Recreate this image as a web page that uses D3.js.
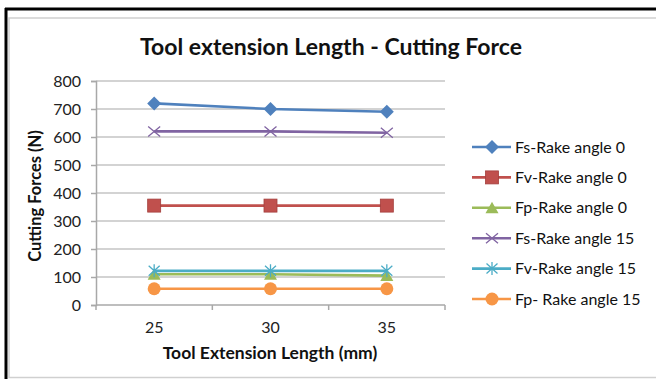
<!DOCTYPE html>
<html>
<head>
<meta charset="utf-8">
<script src="https://cdn.jsdelivr.net/npm/d3@7"></script>
<style>
  body { margin: 0; background: #fff; }
  svg { display: block; font-family: Lato, "Open Sans", sans-serif; }
</style>
</head>
<body>
<script>
// data
const lengths = ['25', '30', '35'];
const seriesNames = ['Fs-Rake angle 0', 'Fv-Rake angle 0', 'Fp-Rake angle 0',
                     'Fs-Rake angle 15', 'Fv-Rake angle 15', 'Fp- Rake angle 15'];
const fs0 = [720, 700, 690];
const fv0 = [355, 355, 355];
const fp0 = [110, 110, 105];
const fs15 = [620, 620, 615];
const fv15 = [122, 122, 122];
const fp15 = [58, 58, 58];
const yTicks = [0, 100, 200, 300, 400, 500, 600, 700, 800];

const colors = ['#4F81BD', '#C0504D', '#9BBB59', '#8064A2', '#4BACC6', '#F79646'];
const markers = ['diamond', 'square', 'triangle', 'cross', 'asterisk', 'circle'];
const series = [fs0, fv0, fp0, fs15, fv15, fp15].map((vals, i) => ({
  name: seriesNames[i], color: colors[i], marker: markers[i], values: vals
}));

const W = 656, H = 379;
const svg = d3.select('body').append('svg').attr('width', W).attr('height', H);

// outer frame
svg.append('rect').attr('x', 9).attr('y', 18).attr('width', 660).attr('height', 359.5)
  .attr('fill', 'none').attr('stroke', '#d0d0d0').attr('stroke-width', 1.5);
svg.append('line').attr('x1', 5).attr('x2', W).attr('y1', 9).attr('y2', 9)
  .attr('stroke', '#000').attr('stroke-width', 3);
svg.append('line').attr('x1', 6).attr('x2', 6).attr('y1', 8).attr('y2', H)
  .attr('stroke', '#000').attr('stroke-width', 3);

const plot = { left: 96, right: 445, top: 81, bottom: 305 };

const x = d3.scaleBand().domain(lengths).range([plot.left, plot.right]);
const y = d3.scaleLinear().domain([0, 800]).range([plot.bottom, plot.top]);

// gridlines
svg.append('g').selectAll('line').data(yTicks.slice(1)).join('line')
  .attr('x1', plot.left).attr('x2', plot.right)
  .attr('y1', d => y(d)).attr('y2', d => y(d))
  .attr('stroke', '#c4c4c4').attr('stroke-width', 1.5);

// y axis
const yAxis = svg.append('g').attr('transform', `translate(${plot.left},0)`)
  .call(d3.axisLeft(y).tickValues(yTicks).tickSize(5).tickPadding(10));
yAxis.select('.domain').attr('stroke', '#a8a8a8').attr('stroke-width', 1.5);
yAxis.selectAll('.tick line').attr('stroke', '#a8a8a8').attr('stroke-width', 1.5);
yAxis.selectAll('text').attr('font-size', 16).attr('fill', '#222')
  .attr('font-family', 'Lato, sans-serif');

// x axis with ticks at band edges
const xAxisG = svg.append('g').attr('transform', `translate(0,${plot.bottom})`);
xAxisG.append('line').attr('x1', plot.left).attr('x2', plot.right)
  .attr('stroke', '#a8a8a8').attr('stroke-width', 1.5);
const edges = lengths.map(d => x(d)).concat([x(lengths[lengths.length - 1]) + x.bandwidth()]);
xAxisG.selectAll('.edge').data(edges).join('line').attr('class', 'edge')
  .attr('x1', d => d).attr('x2', d => d).attr('y1', 0).attr('y2', 5)
  .attr('stroke', '#a8a8a8').attr('stroke-width', 1.5);
xAxisG.selectAll('text').data(lengths).join('text')
  .attr('x', d => x(d) + x.bandwidth() / 2).attr('y', 28)
  .attr('text-anchor', 'middle').attr('font-size', 16).attr('fill', '#222')
  .text(d => d);

// titles
svg.append('text').attr('x', 331).attr('y', 55).attr('text-anchor', 'middle')
  .attr('font-size', 23).attr('font-weight', 'bold').attr('fill', '#111')
  .text('Tool extension Length - Cutting Force');
svg.append('text').attr('x', 270).attr('y', 359).attr('text-anchor', 'middle')
  .attr('font-size', 17.5).attr('font-weight', 'bold').attr('fill', '#111')
  .text('Tool Extension Length (mm)');
svg.append('text').attr('transform', 'translate(41,196) rotate(-90)')
  .attr('text-anchor', 'middle').attr('font-size', 16.5).attr('font-weight', 'bold')
  .attr('fill', '#111').text('Cutting Forces (N)');

function drawMarker(g, type, color) {
  if (type === 'diamond') {
    g.append('path').attr('d', 'M0,-7L7,0L0,7L-7,0Z').attr('fill', color);
  } else if (type === 'square') {
    g.append('rect').attr('x', -6.5).attr('y', -6.5).attr('width', 13).attr('height', 13)
      .attr('fill', color).attr('stroke', '#a33f3c').attr('stroke-width', 0.8);
  } else if (type === 'triangle') {
    g.append('path').attr('d', 'M0,-6L6.5,5.5L-6.5,5.5Z').attr('fill', color);
  } else if (type === 'cross') {
    g.append('path').attr('d', 'M-6,-5L6,5M-6,5L6,-5').attr('stroke', color)
      .attr('stroke-width', 1.3).attr('fill', 'none');
  } else if (type === 'asterisk') {
    g.append('path').attr('d', 'M-5.5,-5L5.5,5M-5.5,5L5.5,-5M0,-6.5L0,6.5')
      .attr('stroke', color).attr('stroke-width', 1.3).attr('fill', 'none');
  } else {
    g.append('circle').attr('r', 6.5).attr('fill', color);
  }
}

const line = d3.line().x((d, i) => x(lengths[i]) + x.bandwidth() / 2).y(d => y(d));

series.forEach(s => {
  svg.append('path').datum(s.values).attr('d', line)
    .attr('fill', 'none').attr('stroke', s.color).attr('stroke-width', 2.6);
  s.values.forEach((v, i) => {
    const g = svg.append('g')
      .attr('transform', `translate(${x(lengths[i]) + x.bandwidth() / 2},${y(v)})`);
    drawMarker(g, s.marker, s.color);
  });
});

// legend
const legend = svg.append('g').attr('transform', 'translate(472,147)');
series.forEach((s, i) => {
  const g = legend.append('g').attr('transform', `translate(0,${i * 30.4})`);
  g.append('line').attr('x1', 0).attr('x2', 39).attr('stroke', s.color).attr('stroke-width', 2.6);
  const m = g.append('g').attr('transform', 'translate(20,0)');
  drawMarker(m, s.marker, s.color);
  g.append('text').attr('x', 43).attr('y', 5.5).attr('font-size', 16).attr('fill', '#111')
    .text(s.name);
});
</script>
</body>
</html>
